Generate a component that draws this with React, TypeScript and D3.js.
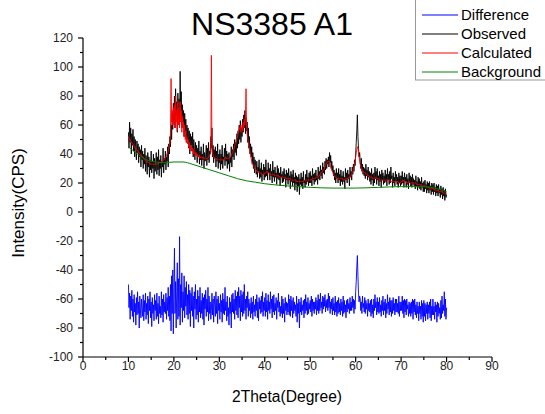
import React from "react";
import * as d3 from "d3";

const X_START = 10;
const X_END = 80;

// 2θ sampled every 0.125° from 10 to 80 (8 values per degree + final point)
const observed: number[] = [
  55, 44, 62, 48, 58, 40, 54, 46,
  57, 42, 52, 38, 50, 44, 36, 49,
  41, 47, 34, 45, 38, 43, 31, 46,
  36, 42, 30, 40, 33, 44, 28, 39,
  34, 26, 41, 31, 38, 24, 36, 29,
  42, 27, 35, 30, 40, 23, 37, 28,
  33, 41, 26, 38, 29, 43, 25, 36,
  30, 39, 24, 35, 31, 44, 27, 37,
  33, 42, 29, 38, 35, 45, 31, 47,
  40, 52, 45, 60, 50, 68, 57, 75,
  62, 80, 58, 85, 66, 76, 55, 82,
  64, 78, 60, 97, 68, 83, 58, 74,
  62, 70, 52, 68, 55, 64, 48, 60,
  50, 58, 44, 56, 40, 54, 46, 52,
  42, 55, 38, 50, 44, 36, 48, 40,
  46, 34, 44, 38, 49, 33, 42, 36,
  45, 32, 40, 36, 47, 30, 41, 35,
  38, 46, 32, 44, 36, 48, 34, 42,
  40, 52, 44, 58, 38, 46, 34, 43,
  37, 45, 31, 42, 35, 47, 30, 40,
  34, 43, 29, 40, 33, 46, 30, 38,
  36, 44, 32, 47, 35, 42, 30, 40,
  33, 41, 28, 38, 34, 45, 31, 43,
  38, 47, 36, 50, 41, 48, 39, 54,
  44, 56, 47, 60, 50, 63, 48, 58,
  52, 64, 55, 67, 58, 70, 54, 65,
  56, 62, 48, 58, 44, 52, 40, 47,
  38, 45, 33, 41, 30, 38, 27, 36,
  32, 26, 35, 24, 31, 28, 36, 23,
  30, 24, 34, 21, 29, 26, 33, 22,
  31, 24, 36, 25, 29, 22, 34, 27,
  30, 22, 33, 25, 28, 20, 35, 24,
  29, 21, 31, 24, 27, 19, 32, 23,
  30, 22, 27, 18, 31, 24, 26, 20,
  28, 21, 30, 23, 26, 17, 29, 22,
  27, 19, 30, 22, 25, 16, 28, 21,
  26, 18, 29, 20, 24, 15, 27, 19,
  25, 14, 24, 18, 26, 12, 23, 19,
  27, 18, 24, 16, 28, 20, 22, 17,
  26, 19, 29, 21, 24, 18, 27, 20,
  28, 20, 25, 18, 30, 22, 26, 19,
  27, 21, 29, 22, 25, 19, 31, 23,
  28, 22, 32, 25, 29, 23, 34, 27,
  31, 26, 35, 29, 37, 30, 36, 33,
  38, 31, 41, 34, 39, 30, 35, 28,
  32, 25, 29, 22, 27, 20, 30, 23,
  27, 20, 30, 22, 26, 18, 29, 21,
  25, 19, 28, 21, 24, 16, 30, 22,
  27, 20, 29, 23, 26, 18, 31, 24,
  28, 22, 31, 26, 33, 28, 36, 32,
  40, 48, 56, 67, 52, 44, 38, 41,
  35, 30, 37, 28, 33, 26, 31, 25,
  30, 23, 33, 25, 29, 22, 31, 24,
  28, 21, 27, 19, 30, 22, 26, 18,
  27, 20, 31, 23, 28, 19, 30, 22,
  25, 18, 28, 21, 26, 17, 29, 22,
  27, 19, 25, 20, 29, 21, 26, 18,
  30, 22, 26, 19, 28, 20, 31, 23,
  25, 17, 27, 20, 24, 18, 28, 21,
  26, 19, 24, 17, 27, 20, 25, 18,
  25, 19, 28, 20, 24, 17, 27, 21,
  24, 17, 26, 19, 23, 16, 27, 20,
  25, 18, 24, 17, 26, 19, 23, 18,
  22, 16, 25, 18, 21, 15, 24, 17,
  23, 16, 21, 15, 24, 17, 20, 14,
  21, 14, 22, 16, 19, 13, 21, 15,
  20, 13, 21, 15, 18, 12, 20, 14,
  19, 12, 20, 14, 17, 11, 19, 13,
  18, 11, 19, 13, 16, 10, 18, 12,
  16, 9, 17, 11, 15, 8, 16, 10,
  12,
];

const calculated: number[] = [
  52, 51, 50, 50, 49, 48, 48, 47,
  47, 46, 45, 45, 44, 44, 43, 43,
  42, 42, 41, 41, 40, 40, 39, 39,
  38, 38, 37, 37, 36, 36, 36, 35,
  35, 35, 34, 34, 34, 34, 33, 33,
  33, 33, 33, 33, 33, 33, 33, 33,
  33, 33, 33, 33, 33, 34, 34, 34,
  34, 34, 35, 35, 35, 36, 36, 36,
  37, 37, 38, 39, 40, 41, 42, 44,
  46, 48, 55, 92, 62, 70, 60, 72,
  60, 74, 58, 80, 62, 70, 56, 76,
  60, 72, 58, 76, 62, 70, 55, 66,
  58, 62, 52, 60, 50, 56, 48, 52,
  47, 50, 45, 48, 43, 46, 42, 45,
  42, 44, 40, 43, 40, 41, 39, 41,
  39, 40, 38, 39, 38, 39, 37, 38,
  38, 38, 37, 38, 37, 37, 37, 37,
  37, 37, 37, 37, 37, 38, 38, 39,
  40, 42, 108, 44, 40, 39, 38, 38,
  37, 37, 37, 36, 36, 36, 36, 36,
  36, 36, 36, 36, 36, 36, 36, 36,
  36, 37, 37, 38, 37, 37, 37, 37,
  37, 37, 37, 38, 38, 39, 40, 41,
  42, 43, 44, 46, 47, 48, 50, 51,
  52, 54, 56, 58, 57, 60, 55, 58,
  60, 56, 62, 58, 64, 60, 66, 85,
  58, 54, 50, 48, 45, 43, 41, 39,
  37, 35, 34, 33, 32, 31, 30, 30,
  29, 29, 28, 28, 28, 27, 27, 27,
  27, 27, 26, 26, 26, 26, 26, 26,
  27, 27, 27, 28, 28, 27, 27, 27,
  27, 26, 26, 26, 26, 26, 26, 26,
  26, 25, 25, 25, 25, 25, 25, 25,
  25, 25, 24, 24, 24, 24, 24, 24,
  24, 24, 24, 24, 24, 23, 23, 23,
  23, 23, 23, 23, 23, 23, 22, 22,
  22, 22, 22, 22, 22, 22, 22, 22,
  21, 21, 21, 21, 21, 21, 21, 21,
  21, 21, 21, 21, 21, 21, 22, 22,
  22, 22, 22, 22, 22, 22, 22, 22,
  22, 22, 22, 23, 23, 23, 23, 23,
  23, 23, 24, 24, 24, 24, 24, 25,
  25, 26, 26, 27, 27, 28, 28, 29,
  29, 30, 31, 32, 33, 34, 34, 35,
  35, 35, 34, 33, 32, 30, 29, 28,
  27, 26, 25, 25, 24, 24, 24, 23,
  23, 23, 23, 23, 23, 23, 23, 23,
  23, 23, 22, 22, 22, 22, 23, 23,
  23, 23, 23, 23, 24, 24, 24, 25,
  25, 26, 27, 28, 29, 31, 33, 35,
  38, 41, 43, 45, 44, 41, 38, 35,
  33, 31, 30, 29, 29, 28, 28, 27,
  27, 27, 26, 26, 26, 25, 25, 25,
  25, 24, 24, 24, 24, 24, 23, 23,
  23, 23, 24, 24, 24, 23, 23, 23,
  23, 23, 22, 22, 22, 22, 22, 22,
  22, 22, 22, 22, 22, 22, 22, 22,
  22, 22, 22, 22, 22, 21, 21, 21,
  21, 21, 21, 21, 21, 21, 21, 21,
  21, 21, 21, 21, 20, 20, 20, 20,
  21, 21, 21, 22, 22, 21, 21, 21,
  21, 21, 20, 20, 20, 21, 21, 20,
  20, 20, 20, 20, 20, 20, 20, 20,
  20, 20, 20, 19, 19, 19, 19, 19,
  19, 19, 19, 18, 18, 18, 18, 18,
  18, 18, 18, 18, 17, 17, 17, 17,
  17, 17, 17, 16, 16, 16, 16, 16,
  16, 16, 16, 15, 15, 15, 15, 15,
  15, 15, 15, 14, 14, 14, 14, 14,
  14, 14, 13, 13, 13, 13, 13, 13,
  13,
];

const difference: number[] = [
  -50, -66, -56, -74, -58, -68, -54, -72,
  -60, -76, -57, -69, -63, -78, -59, -71,
  -55, -70, -62, -80, -58, -67, -73, -60,
  -66, -72, -57, -75, -61, -69, -56, -74,
  -63, -71, -58, -77, -60, -68, -55, -73,
  -62, -79, -59, -70, -64, -75, -57, -68,
  -61, -74, -56, -72, -63, -77, -58, -70,
  -65, -73, -55, -71, -60, -76, -57, -69,
  -62, -70, -56, -74, -59, -68, -52, -72,
  -58, -75, -50, -82, -44, -70, -40, -84,
  -52, -25, -70, -48, -80, -55, -35, -74,
  -46, -72, -17, -78, -50, -66, -42, -76,
  -55, -68, -44, -73, -52, -65, -48, -71,
  -57, -74, -50, -70, -54, -79, -56, -68,
  -52, -72, -58, -80, -55, -67, -50, -74,
  -60, -71, -54, -76, -58, -69, -52, -73,
  -61, -70, -56, -74, -59, -78, -57, -67,
  -54, -72, -60, -69, -52, -75, -58, -70,
  -62, -74, -68, -56, -71, -60, -76, -58,
  -64, -72, -55, -70, -60, -77, -58, -68,
  -63, -74, -57, -69, -61, -76, -56, -70,
  -60, -71, -52, -68, -62, -75, -58, -72,
  -66, -78, -59, -70, -62, -80, -57, -69,
  -56, -70, -60, -74, -54, -68, -58, -71,
  -55, -73, -52, -66, -58, -75, -54, -69,
  -57, -72, -55, -70, -50, -68, -60, -74,
  -58, -66, -55, -72, -60, -68, -63, -73,
  -59, -70, -62, -74, -58, -69, -64, -72,
  -60, -68, -57, -73, -62, -75, -59, -67,
  -61, -70, -58, -69, -55, -72, -62, -68,
  -59, -72, -56, -69, -61, -74, -57, -68,
  -62, -70, -55, -67, -60, -73, -58, -69,
  -57, -71, -63, -68, -59, -74, -61, -66,
  -56, -69, -62, -72, -65, -70, -58, -73,
  -60, -70, -63, -76, -59, -68, -62, -71,
  -63, -69, -57, -71, -60, -72, -58, -68,
  -61, -73, -59, -70, -62, -68, -64, -72,
  -58, -76, -63, -70, -60, -80, -62, -69,
  -59, -71, -64, -68, -61, -73, -60, -70,
  -57, -68, -62, -71, -59, -70, -63, -67,
  -61, -69, -58, -72, -60, -68, -62, -70,
  -62, -67, -59, -71, -61, -68, -57, -70,
  -60, -68, -56, -66, -62, -70, -58, -67,
  -59, -65, -57, -69, -61, -66, -60, -68,
  -56, -66, -58, -70, -62, -67, -60, -71,
  -59, -68, -63, -71, -58, -69, -62, -72,
  -61, -70, -59, -69, -63, -71, -60, -68,
  -62, -72, -58, -70, -61, -69, -64, -73,
  -61, -69, -60, -67, -63, -70, -59, -68,
  -62, -68, -58, -66, -60, -70, -61, -67,
  -55, -48, -38, -30, -44, -56, -62, -58,
  -60, -68, -62, -70, -58, -66, -63, -69,
  -59, -70, -61, -67, -63, -72, -60, -68,
  -63, -69, -61, -72, -60, -70, -64, -73,
  -60, -68, -57, -66, -62, -71, -59, -69,
  -62, -70, -59, -69, -64, -72, -61, -68,
  -58, -71, -62, -68, -60, -73, -63, -70,
  -57, -67, -62, -71, -59, -69, -61, -72,
  -61, -70, -59, -68, -63, -71, -60, -69,
  -60, -69, -63, -70, -58, -72, -62, -68,
  -62, -68, -58, -70, -61, -73, -60, -69,
  -61, -71, -60, -67, -64, -72, -62, -70,
  -63, -72, -62, -70, -60, -74, -61, -69,
  -60, -71, -64, -73, -62, -70, -65, -75,
  -62, -70, -65, -74, -61, -72, -63, -76,
  -61, -72, -63, -75, -64, -70, -62, -74,
  -64, -70, -62, -73, -60, -75, -65, -71,
  -60, -71, -65, -74, -62, -69, -64, -76,
  -62, -72, -63, -70, -66, -74, -61, -73,
  -58, -70, -64, -68, -55, -72, -60, -74,
  -66,
];

const bgAngles: number[] = [10, 12, 14, 16, 18, 20, 22, 24, 26, 28, 30, 32, 34, 36, 38, 40, 45, 50, 55, 60, 65, 70, 75, 78, 80];
const bgValues: number[] = [45, 40, 36, 34.5, 34, 34.5, 34.5, 33, 31, 29, 27, 25, 23, 21.5, 20.5, 19.5, 18, 17, 16.5, 16.5, 17, 17.5, 17.5, 16, 14];

const xTicks: number[] = [0, 10, 20, 30, 40, 50, 60, 70, 80, 90];
const yTicks: number[] = [-100, -80, -60, -40, -20, 0, 20, 40, 60, 80, 100, 120];

const legendItems: { label: string; color: string }[] = [
  { label: "Difference", color: "#0000ff" },
  { label: "Observed", color: "#000000" },
  { label: "Calculated", color: "#ff0000" },
  { label: "Background", color: "#008000" },
];

const FONT = "'Liberation Sans', Arial, sans-serif";

export default function App() {
  const W = 545;
  const H = 414;
  const x = d3.scaleLinear().domain([0, 90]).range([83, 492]);
  const y = d3.scaleLinear().domain([-100, 120]).range([357, 38]);

  const toPts = (arr: number[]) => {
    const step = (X_END - X_START) / (arr.length - 1);
    return arr.map((v, i) => [X_START + i * step, v] as [number, number]);
  };

  const line = d3
    .line<[number, number]>()
    .x((d) => x(d[0]))
    .y((d) => y(d[1]));
  const smooth = d3
    .line<[number, number]>()
    .x((d) => x(d[0]))
    .y((d) => y(d[1]))
    .curve(d3.curveMonotoneX);

  const bgPts = bgAngles.map((a, i) => [a, bgValues[i]] as [number, number]);

  const minorX = d3.range(5, 90, 10);
  const minorY = d3.range(-90, 120, 20);

  const [x0, x1] = x.range();
  const [yb, yt] = y.range();

  return (
    <svg
      width={W}
      height={H}
      style={{ position: "absolute", left: 0, top: 0, background: "#fff" }}
      fontFamily={FONT}
    >
      <rect width={W} height={H} fill="#fff" />
      <text x={272} y={35} fontSize={32} textAnchor="middle" fill="#000">
        NS3385 A1
      </text>

      <path d={line(toPts(difference)) || ""} fill="none" stroke="#0000ff" strokeWidth={0.9} />
      <path d={line(toPts(observed)) || ""} fill="none" stroke="#000" strokeWidth={0.9} />
      <path d={line(toPts(calculated)) || ""} fill="none" stroke="#ff0000" strokeWidth={0.9} />
      <path d={smooth(bgPts) || ""} fill="none" stroke="#008000" strokeWidth={1} />

      <line x1={x0} x2={x0} y1={yb} y2={yt} stroke="#000" strokeWidth={1.2} />
      <line x1={x0} x2={x1} y1={yb} y2={yb} stroke="#000" strokeWidth={1.2} />
      {yTicks.map((t) => (
        <g key={"yt" + t}>
          <line x1={x0 - 5} x2={x0} y1={y(t)} y2={y(t)} stroke="#000" strokeWidth={1.2} />
          <text x={x0 - 10} y={y(t) + 4} fontSize={12} textAnchor="end" fill="#222">
            {t}
          </text>
        </g>
      ))}
      {minorY.map((t) => (
        <line key={"ym" + t} x1={x0 - 3} x2={x0} y1={y(t)} y2={y(t)} stroke="#000" strokeWidth={1.2} />
      ))}
      {xTicks.map((t) => (
        <g key={"xt" + t}>
          <line x1={x(t)} x2={x(t)} y1={yb} y2={yb + 5} stroke="#000" strokeWidth={1.2} />
          <text x={x(t)} y={370} fontSize={12} textAnchor="middle" fill="#222">
            {t}
          </text>
        </g>
      ))}
      {minorX.map((t) => (
        <line key={"xm" + t} x1={x(t)} x2={x(t)} y1={yb} y2={yb + 3} stroke="#000" strokeWidth={1.2} />
      ))}

      <text x={287} y={402} fontSize={15.6} textAnchor="middle" fill="#000">
        2Theta(Degree)
      </text>
      <text transform={`translate(24,203) rotate(-90)`} fontSize={17} textAnchor="middle" fill="#000">
        Intensity(CPS)
      </text>

      <rect x={415.5} y={-2} width={135} height={82} fill="#fff" stroke="#999" strokeWidth={1} />
      {legendItems.map((it, i) => (
        <g key={it.label}>
          <line x1={422} x2={458} y1={15 + i * 19} y2={15 + i * 19} stroke={it.color} strokeWidth={1} />
          <text x={461} y={19.5 + i * 19} fontSize={15} fill="#000">
            {it.label}
          </text>
        </g>
      ))}
    </svg>
  );
}
